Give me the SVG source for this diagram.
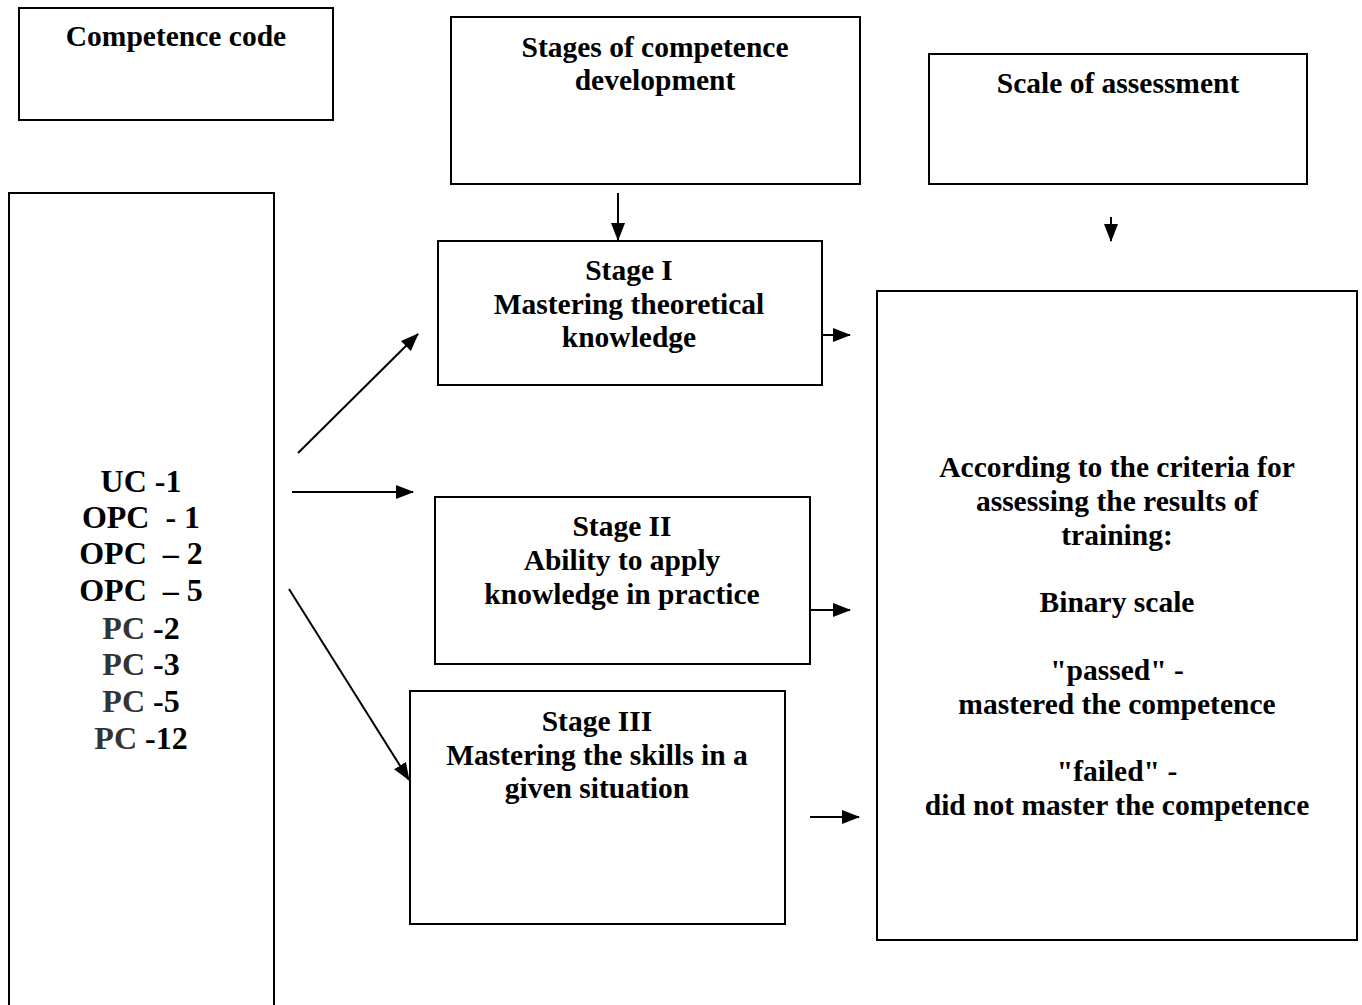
<svg xmlns="http://www.w3.org/2000/svg" width="1362" height="1005" viewBox="0 0 1362 1005">
<defs>
<marker id="ah" markerWidth="18" markerHeight="14" refX="17" refY="7" orient="auto" markerUnits="userSpaceOnUse">
<path d="M0,0 L18,7 L0,14 Z" fill="#000"/>
</marker>
<style>
.box{fill:#fff;stroke:#000;stroke-width:2}
.t{font-family:"Liberation Serif","Times New Roman",serif;font-weight:bold;font-size:29.5px;text-anchor:middle;fill:#000}
.l{font-family:"Liberation Serif","Times New Roman",serif;font-weight:bold;font-size:32px;text-anchor:middle;fill:#000}
.g{fill:#333}
.c{stroke:#000;stroke-width:2;fill:none;marker-end:url(#ah)}
</style>
</defs>
<rect width="1362" height="1005" fill="#fff"/>
<g id="code">
<rect class="box" x="19" y="8" width="314" height="112"/>
<text class="t" x="176" y="46">Competence code</text>
</g>
<g id="stages">
<rect class="box" x="451" y="17" width="409" height="167"/>
<text class="t" x="655" y="57">Stages of competence</text>
<text class="t" x="655" y="90">development</text>
</g>
<g id="scale">
<rect class="box" x="929" y="54" width="378" height="130"/>
<text class="t" x="1118" y="93">Scale of assessment</text>
</g>
<g id="codes">
<rect class="box" x="9" y="193" width="265" height="830"/>
<text class="l" x="141" y="492">UC -1</text>
<text class="l" x="141" y="528" xml:space="preserve">OPC  - 1</text>
<text class="l" x="141" y="564" xml:space="preserve">OPC  – 2</text>
<text class="l" x="141" y="601" xml:space="preserve">OPC  – 5</text>
<text class="l" x="141" y="639"><tspan class="g">PC</tspan> -2</text>
<text class="l" x="141" y="675"><tspan class="g">PC</tspan> -3</text>
<text class="l" x="141" y="712"><tspan class="g">PC</tspan> -5</text>
<text class="l" x="141" y="749"><tspan class="g">PC</tspan> -12</text>
</g>
<g id="stage1">
<rect class="box" x="438" y="241" width="384" height="144"/>
<text class="t" x="629" y="280">Stage I</text>
<text class="t" x="629" y="314">Mastering theoretical</text>
<text class="t" x="629" y="347">knowledge</text>
</g>
<g id="stage2">
<rect class="box" x="435" y="497" width="375" height="167"/>
<text class="t" x="622" y="536">Stage II</text>
<text class="t" x="622" y="570">Ability to apply</text>
<text class="t" x="622" y="604">knowledge in practice</text>
</g>
<g id="stage3">
<rect class="box" x="410" y="691" width="375" height="233"/>
<text class="t" x="597" y="731">Stage III</text>
<text class="t" x="597" y="765">Mastering the skills in a</text>
<text class="t" x="597" y="798">given situation</text>
</g>
<g id="criteria">
<rect class="box" x="877" y="291" width="480" height="649"/>
<text class="t" x="1117" y="477">According to the criteria for</text>
<text class="t" x="1117" y="511">assessing the results of</text>
<text class="t" x="1117" y="545">training:</text>
<text class="t" x="1117" y="612">Binary scale</text>
<text class="t" x="1117" y="680">"passed" -</text>
<text class="t" x="1117" y="714">mastered the competence</text>
<text class="t" x="1117" y="781">"failed" -</text>
<text class="t" x="1117" y="815">did not master the competence</text>
</g>
<g id="connectors">
<line class="c" x1="298" y1="453" x2="418" y2="334"/>
<line class="c" x1="292" y1="492" x2="413" y2="492"/>
<line class="c" x1="289" y1="589" x2="409" y2="780"/>
<line class="c" x1="618" y1="193" x2="618" y2="240"/>
<line class="c" x1="1111" y1="217" x2="1111" y2="241"/>
<line class="c" x1="822" y1="335" x2="850" y2="335"/>
<line class="c" x1="810" y1="610" x2="850" y2="610"/>
<line class="c" x1="810" y1="817" x2="859" y2="817"/>
</g>
</svg>
